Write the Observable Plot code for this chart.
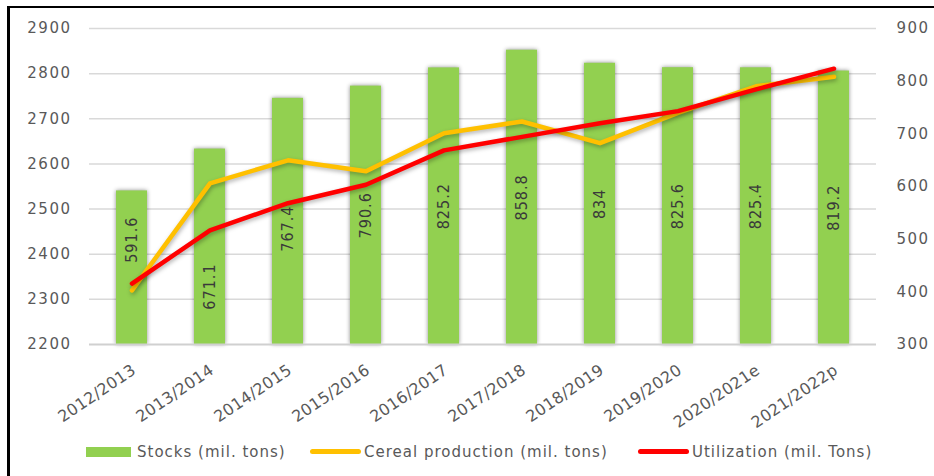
<!DOCTYPE html>
<html><head><meta charset="utf-8">
<script src="https://cdn.jsdelivr.net/npm/d3@7"></script>
<script src="https://cdn.jsdelivr.net/npm/@observablehq/plot@0.6"></script>
<style>
body{margin:0;background:#fff;width:934px;height:476px;overflow:hidden;position:relative;font-family:"DejaVu Sans",sans-serif;}
#frame{position:absolute;left:7px;top:6px;width:960px;height:500px;border-left:3px solid #000;border-top:2px solid #000;box-sizing:border-box;}
#chart{position:absolute;left:0;top:0;}
#chart svg text{letter-spacing:1px;}
.lg{position:absolute;font-size:15px;color:#595959;letter-spacing:1px;line-height:18px;white-space:nowrap;}
.sw{position:absolute;}
</style>
</head><body>
<div id="frame"></div>
<div id="chart"></div>
<div id="legend"></div>
<script>
// ---- data ----
const years = ["2012/2013","2013/2014","2014/2015","2015/2016","2016/2017","2017/2018","2018/2019","2019/2020","2020/2021e","2021/2022p"];
const stocks = [591.6, 671.1, 767.4, 790.6, 825.2, 858.8, 834, 825.6, 825.4, 819.2];
const production = [2320, 2557, 2608, 2584, 2668, 2694, 2646, 2713, 2772, 2793];
const utilization = [2335, 2453, 2513, 2554, 2630, 2660, 2690, 2717, 2765, 2811];
const leftTicks = [2200, 2300, 2400, 2500, 2600, 2700, 2800, 2900];
const rightTicks = [300, 400, 500, 600, 700, 800, 900];
const seriesNames = ["Stocks (mil. tons)", "Cereal production (mil. tons)", "Utilization (mil. Tons)"];
// label anchors (in stock units) where the source moved the label away from the bar middle
const labelAnchorOverride = {0: 499, 1: 410, 2: 520};

// right axis (stocks) mapped onto the left axis scale
const toLeft = d3.scaleLinear([300, 900], [2200, 2900]);

const rows = years.map((y, i) => ({
  year: y, stock: stocks[i], prod: production[i], util: utilization[i],
  labelAt: labelAnchorOverride[i] ?? (stocks[i] + 300) / 2
}));

const chart = Plot.plot({
  width: 934, height: 430,
  marginLeft: 89, marginRight: 58, marginTop: 28, marginBottom: 86,
  style: {fontFamily: '"DejaVu Sans", sans-serif', fontSize: "15px", color: "#595959", background: "transparent"},
  x: {domain: years, paddingInner: 0.6, paddingOuter: 0.3, label: null},
  y: {domain: [2200, 2900], label: null},
  marks: [
    Plot.ruleY(leftTicks.slice(1), {stroke: "#d9d9d9", strokeWidth: 1.5}),
    Plot.barY(rows, {x: "year", y1: () => toLeft(300), y2: d => toLeft(d.stock), fill: "#92D050"}),
    Plot.ruleY([2200], {stroke: "#d0d0d0", strokeWidth: 2}),
    Plot.text(rows, {x: "year", y: d => toLeft(d.labelAt), text: d => String(d.stock), rotate: -90,
      fill: "#3a3a3a", fontSize: 16, fontFamily: '"DejaVu Sans Condensed", "DejaVu Sans", sans-serif'}),
    Plot.line(rows, {x: "year", y: "prod", stroke: "#FFC000", strokeWidth: 4.5, strokeLinejoin: "round", strokeLinecap: "round"}),
    Plot.line(rows, {x: "year", y: "util", stroke: "#FF0000", strokeWidth: 4.5, strokeLinejoin: "round", strokeLinecap: "round"}),
    Plot.axisY(leftTicks, {anchor: "left", tickSize: 0, tickPadding: 18, label: null, tickFormat: d => String(d)}),
    Plot.axisY(rightTicks.map(toLeft), {anchor: "right", tickSize: 0, tickPadding: 20, label: null,
      tickFormat: v => String(Math.round(toLeft.invert(v)))}),
    Plot.axisX({tickRotate: -34, tickSize: 0, tickPadding: 24, dx: 2, fontSize: 16, label: null})
  ]
});
document.getElementById("chart").appendChild(chart);

// soft shadows as in the source
chart.querySelectorAll('g[aria-label="bar"]').forEach(g => g.style.filter = "drop-shadow(0px 0px 2px rgba(0,0,0,0.45))");
chart.querySelectorAll('g[aria-label="line"]').forEach(g => g.style.filter = "drop-shadow(1px 2px 2px rgba(0,0,0,0.3))");
chart.querySelectorAll('g[aria-label="y-axis tick label"] text').forEach(t => t.style.letterSpacing = "1.5px");
chart.querySelectorAll('g[aria-label="x-axis tick label"] text').forEach(t => t.style.letterSpacing = "0.3px");

// legend
const lg = document.getElementById("legend");
const items = [
  {name: seriesNames[0], sw: {left: 86, top: 447, width: 45, height: 10, background: "#92D050"}, tx: 137},
  {name: seriesNames[1], sw: {left: 310, top: 449, width: 51, height: 5, background: "#FFC000", borderRadius: "3px"}, tx: 364},
  {name: seriesNames[2], sw: {left: 638, top: 449, width: 51, height: 5, background: "#FF0000", borderRadius: "3px"}, tx: 692}
];
items.forEach(it => {
  const s = document.createElement("div");
  s.className = "sw";
  Object.assign(s.style, {left: it.sw.left + "px", top: it.sw.top + "px", width: it.sw.width + "px", height: it.sw.height + "px",
    background: it.sw.background, borderRadius: it.sw.borderRadius || "0"});
  lg.appendChild(s);
  const t = document.createElement("div");
  t.className = "lg";
  t.style.left = it.tx + "px"; t.style.top = "443px";
  t.textContent = it.name;
  lg.appendChild(t);
});
</script>
</body></html>
